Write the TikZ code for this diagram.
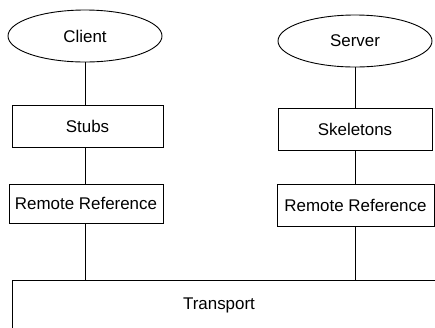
\documentclass[tikz,border=0pt]{standalone}
\usepackage{fontspec}
\setmainfont{Liberation Sans}
\usetikzlibrary{shapes.geometric}
\begin{document}
\begin{tikzpicture}[x=1bp,y=-1bp,
  every node/.style={font=\fontsize{17}{19}\selectfont, inner sep=0pt},
  proc/.style={ellipse, draw, line width=0.9bp, minimum width=154bp, minimum height=52bp},
  layer/.style={rectangle, draw, line width=0.9bp, minimum height=42bp},
  conn/.style={line width=0.9bp}]
\useasboundingbox (0,0) rectangle (435,327);
\node[proc] (client) at (85,36) {Client};
\node[proc] (server) at (355,41) {Server};
\node[layer, minimum width=151bp] (stubs) at (87.5,126) {Stubs};
\node[layer, minimum width=154bp] (skel) at (355,129.5) {Skeletons};
\node[layer, minimum width=154bp, minimum height=39bp] (rr1) at (86,203.5) {Remote Reference};
\node[layer, minimum width=157bp] (rr2) at (355.5,205.5) {Remote Reference};
\coordinate (tl) at (12,280);
\coordinate (tr) at (436,280);
\coordinate (bl) at (12,328);
\node (transport) at (219,305) {Transport};
\draw[conn] (bl) -- (tl) -- (tr);
\draw[conn] (client.south) -- (client.south |- stubs.north);
\draw[conn] (stubs.south -| client.south) -- (client.south |- rr1.north);
\draw[conn] (rr1.south -| client.south) -- (client.south |- tl);
\draw[conn] (server.south) -- (server.south |- skel.north);
\draw[conn] (skel.south -| server.south) -- (server.south |- rr2.north);
\draw[conn] (rr2.south -| server.south) -- (server.south |- tl);
\end{tikzpicture}
\end{document}
